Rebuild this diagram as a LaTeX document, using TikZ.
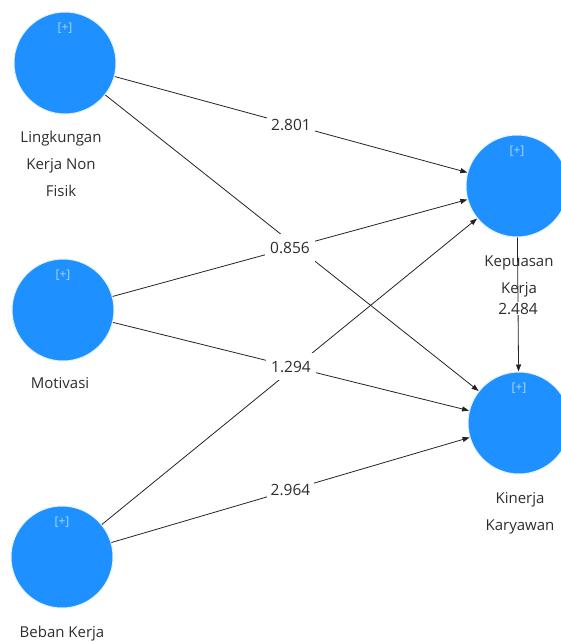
\documentclass[tikz,border=0pt]{standalone}
\usepackage{fontspec}
\setmainfont{Open Sans}
\usetikzlibrary{arrows.meta}
\definecolor{nodeblue}{RGB}{30,144,255}
\definecolor{plusblue}{RGB}{175,215,255}
\definecolor{txtgray}{RGB}{45,45,45}
\definecolor{edgegray}{RGB}{35,35,35}
\begin{document}
\begin{tikzpicture}[x=1pt,y=-1pt,
  latent/.style={circle,fill=nodeblue,draw=nodeblue!12!white,line width=1pt,minimum size=102pt,inner sep=0pt},
  plusmark/.style={text=plusblue,font=\fontsize{12}{12}\selectfont,inner sep=0pt},
  lvlabel/.style={text=txtgray,font=\fontsize{15}{27}\selectfont,align=center,anchor=base,inner sep=0pt},
  relation/.style={draw=edgegray,line width=0.8pt,-{Triangle[length=7pt,width=5pt]}},
  coef/.style={fill=white,text=txtgray,font=\fontsize{15.5}{15.5}\selectfont,inner xsep=4pt,inner ysep=3pt},
  coefwide/.style={coef,inner xsep=5pt,inner ysep=8pt},
  coefslim/.style={coef,inner ysep=1pt}]
\useasboundingbox (0,0) rectangle (561,642);
% latent variables
\node[latent] (lk) at (65,63) {};
\node[latent] (mo) at (63,310) {};
\node[latent] (bk) at (62,557) {};
\node[latent] (kk) at (517,186) {};
\node[latent] (ki) at (519,423) {};
% [+] marks
\node[plusmark] (lkp) at (65,28) {[+]};
\node[plusmark] (mop) at (63,275) {[+]};
\node[plusmark] (bkp) at (62,522) {[+]};
\node[plusmark] (kkp) at (517,151) {[+]};
\node[plusmark] (kip) at (519,388) {[+]};
% captions (base anchor = baseline of the last line)
\node[lvlabel] (lkl) at (61,196) {Lingkungan\\Kerja Non\\Fisik};
\node[lvlabel] (mol) at (60,388) {Motivasi};
\node[lvlabel] (bkl) at (62,637) {Beban Kerja};
\node[lvlabel] (kkl) at (519,293) {Kepuasan\\Kerja};
\node[lvlabel] (kil) at (520,530) {Kinerja\\Karyawan};
% paths (unlabelled first)
\draw[relation] (lk) -- (ki);
\draw[relation] (bk) -- (kk);
\draw[relation] (lk) -- node[coef] {2.801} (kk);
\draw[relation] (mo) -- node[coefwide] {0.856} (kk);
\draw[relation] (mo) -- node[coefwide] {1.294} (ki);
\draw[relation] (bk) -- node[coef] {2.964} (ki);
\draw[relation] (kk) -- node[coefslim,pos=0.53] {2.484} (ki);
\end{tikzpicture}
\end{document}
